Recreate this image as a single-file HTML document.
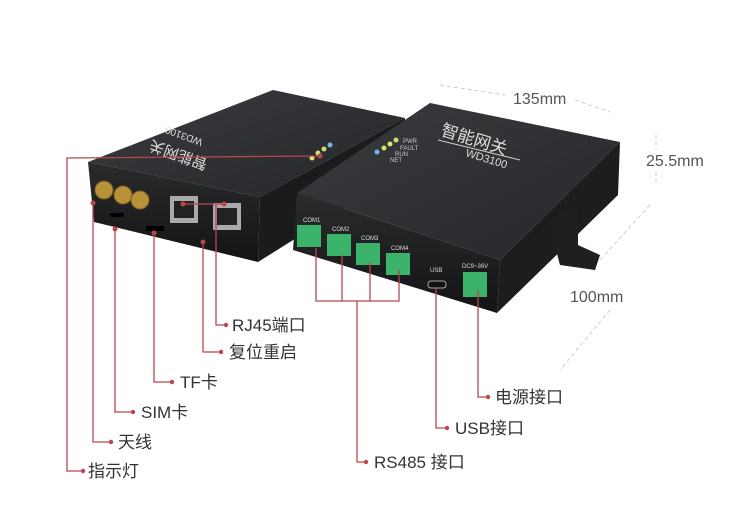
<!DOCTYPE html>
<html><head><meta charset="utf-8"><style>
html,body{margin:0;padding:0;background:#fff;}
svg{display:block;}
text{font-family:"Liberation Sans","Noto Sans CJK SC",sans-serif;}
</style></head><body>
<svg width="750" height="520" viewBox="0 0 750 520" xmlns="http://www.w3.org/2000/svg">
<defs>
<linearGradient id="top" x1="0" y1="0" x2="1" y2="1"><stop offset="0" stop-color="#3a3b3e"/><stop offset="1" stop-color="#26272a"/></linearGradient>
<linearGradient id="front" x1="0" y1="0" x2="0" y2="1"><stop offset="0" stop-color="#2a2b2d"/><stop offset="1" stop-color="#141416"/></linearGradient>
</defs>
<g stroke="#ccc" stroke-dasharray="4,3" fill="none">
<line x1="440" y1="85" x2="505" y2="95"/><line x1="575" y1="100" x2="610" y2="112"/>
<line x1="656" y1="135" x2="656" y2="150"/><line x1="656" y1="172" x2="656" y2="185"/>
<line x1="650" y1="205" x2="600" y2="260"/><line x1="610" y1="310" x2="560" y2="370"/>
</g>
<!-- left device -->
<polygon points="88,162 273,90 405,118 260,197" fill="url(#top)"/>
<polygon points="260,197 405,118 405,170 258,262" fill="#1a1b1d"/>
<polygon points="88,162 260,197 258,262 94,222" fill="url(#front)"/>
<text x="180" y="150" fill="#ddd" font-size="15" transform="rotate(200 180 150)" text-anchor="middle">智能网关</text>
<text x="185" y="133" fill="#ddd" font-size="10" transform="rotate(200 185 133)" text-anchor="middle">WD3100</text>
<g fill="#b8923a" stroke="#7a5d1c"><circle cx="104" cy="190" r="9"/><circle cx="123" cy="195" r="9"/><circle cx="140" cy="200" r="9"/></g>
<rect x="170" y="196" width="28" height="27" fill="#aaa"/><rect x="174" y="201" width="20" height="17" fill="#222"/>
<rect x="213" y="203" width="28" height="27" fill="#aaa"/><rect x="217" y="208" width="20" height="17" fill="#222"/>
<rect x="110" y="213" width="14" height="4" rx="2" fill="#000"/><rect x="146" y="226" width="18" height="5" fill="#000"/>
<g><circle cx="312" cy="158" r="2.5" fill="#e8e070"/><circle cx="318" cy="153" r="2.5" fill="#d8e070"/><circle cx="324" cy="149" r="2.5" fill="#c8e070"/><circle cx="330" cy="145" r="2.5" fill="#70b8e8"/></g>
<!-- right device -->
<polygon points="297,193 430,103 620,142 500,260" fill="url(#top)"/>
<polygon points="500,260 620,142 618,195 497,313" fill="#1c1d1f"/>
<polygon points="297,193 500,260 497,313 293,250" fill="url(#front)"/>
<text x="440" y="135" fill="#ddd" font-size="17" transform="rotate(17 440 135)">智能网关</text>
<line x1="438" y1="140" x2="520" y2="160" stroke="#ccc"/>
<text x="465" y="156" fill="#ddd" font-size="11" transform="rotate(17 465 156)">WD3100</text>
<g font-size="6" fill="#ccc"><text x="403" y="143">PWR</text><text x="400" y="150">FAULT</text><text x="395" y="156">RUN</text><text x="390" y="162">NET</text></g>
<g><circle cx="396" cy="140" r="2.5" fill="#c8e070"/><circle cx="390" cy="144" r="2.5" fill="#e8e070"/><circle cx="384" cy="148" r="2.5" fill="#d8e070"/><circle cx="377" cy="152" r="2.5" fill="#70b8e8"/></g>
<g fill="#3bb36a"><rect x="297" y="225" width="24" height="22"/><rect x="327" y="234" width="24" height="22"/><rect x="356" y="243" width="24" height="22"/><rect x="386" y="253" width="24" height="22"/><rect x="463" y="272" width="24" height="25"/></g>
<g font-size="6" fill="#ddd"><text x="303" y="222">COM1</text><text x="332" y="231">COM2</text><text x="361" y="240">COM3</text><text x="391" y="250">COM4</text><text x="430" y="272">USB</text><text x="462" y="268">DC9~36V</text></g>
<rect x="428" y="281" width="18" height="7" rx="3" fill="#111" stroke="#aaa"/>
<polygon points="556,218 578,205 578,245 600,255 595,270 560,265 556,250" fill="#1e1f21"/>
<g fill="#555" font-size="16"><text x="513" y="104">135mm</text><text x="646" y="166">25.5mm</text><text x="570" y="302">100mm</text></g>
<!-- annotation lines -->
<g stroke="#b8474b" stroke-width="1.3" fill="none">
<polyline points="320,156 67,158 67,471 83,471"/>
<polyline points="93,205 93,442 111,442"/>
<polyline points="115,230 115,412 133,412"/>
<polyline points="154,235 154,382 172,382"/>
<polyline points="203,244 203,352 221,352"/>
<polyline points="183,204 224,204"/>
<polyline points="216,204 216,325 226,325"/>
<polyline points="316,248 316,301 399,301 399,270"/>
<line x1="342" y1="255" x2="342" y2="301"/><line x1="370" y1="262" x2="370" y2="301"/>
<polyline points="357,301 357,462 366,462"/>
<polyline points="436,288 436,428 447,428"/>
<polyline points="478,290 478,397 488,397"/>
</g>
<g fill="#b8474b"><circle cx="83" cy="471" r="2.2"/><circle cx="111" cy="442" r="2.2"/><circle cx="133" cy="412" r="2.2"/><circle cx="172" cy="382" r="2.2"/><circle cx="221" cy="352" r="2.2"/><circle cx="226" cy="325" r="2.2"/><circle cx="366" cy="462" r="2.2"/><circle cx="447" cy="428" r="2.2"/><circle cx="488" cy="397" r="2.2"/>
<circle cx="183" cy="204" r="2.5"/><circle cx="224" cy="204" r="2.5"/><circle cx="93" cy="203" r="2.5"/><circle cx="154" cy="233" r="2.5"/><circle cx="203" cy="242" r="2.5"/><circle cx="115" cy="229" r="2.5"/><circle cx="320" cy="156" r="2.5"/></g>
<g fill="#333" font-size="17">
<text x="232" y="331">RJ45端口</text><text x="229" y="358">复位重启</text><text x="180" y="388">TF卡</text><text x="141" y="418">SIM卡</text><text x="118" y="448">天线</text><text x="88" y="477">指示灯</text>
<text x="374" y="468">RS485 接口</text><text x="455" y="434">USB接口</text><text x="495" y="403">电源接口</text>
</g>
</svg>
</body></html>
